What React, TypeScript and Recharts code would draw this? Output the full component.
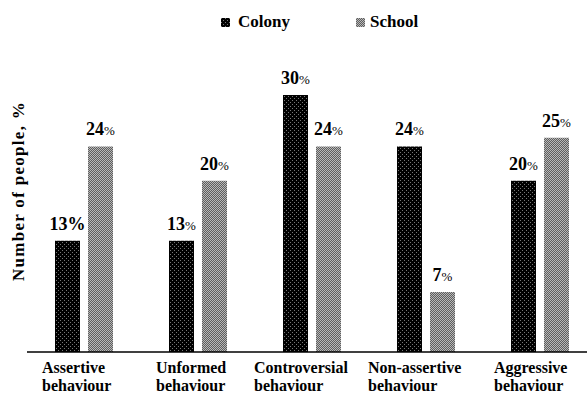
import React from "react";
import { BarChart, Bar, XAxis, YAxis, Legend, LabelList, Customized } from "recharts";

const categories = ["Assertive behaviour", "Unformed behaviour", "Controversial behaviour", "Non-assertive behaviour", "Aggressive behaviour"];
const colony = [13, 13, 30, 24, 20];
const school = [24, 20, 24, 7, 25];
// the first colony label prints the "%" at full size
const colonyBigPercent = [true, false, false, false, false];

const data = categories.map((name, i) => ({
  name,
  colony: colony[i],
  school: school[i],
}));

const FONT = '"Liberation Serif", "DejaVu Serif", serif';

const CategoryTick = (props: any) => {
  const { x, y, payload } = props;
  const words = String(payload.value).split(" ");
  const w = Math.max(...words.map((s) => s.length * 8));
  const left = x - w / 2 - 6;
  return (
    <text x={left} y={y} style={{ fontFamily: FONT }} fontWeight="bold" fontSize={16} fill="#000" textAnchor="start">
      {words.map((s, i) => (
        <tspan key={i} x={left} dy={i === 0 ? 13 : 18}>
          {s}
        </tspan>
      ))}
    </text>
  );
};

const makeLabel = (big: boolean[] | null) => (props: any) => {
  const { x, y, width, value, index } = props;
  const isBig = big ? big[index] : false;
  return (
    <text x={x + width / 2} y={y - 11} textAnchor="middle" style={{ fontFamily: FONT }} fill="#000">
      <tspan fontWeight="bold" fontSize={18}>{value}</tspan>
      <tspan fontWeight={isBig ? "bold" : "normal"} fontSize={isBig ? 18 : 13}>%</tspan>
    </text>
  );
};

const LegendContent = () => (
  <div style={{ height: 85, position: "relative", fontFamily: FONT, fontWeight: "bold", fontSize: 17, color: "#000" }}>
    <div style={{ position: "absolute", left: 194, top: 2, display: "flex", alignItems: "center", lineHeight: "20px" }}>
      <svg width={9} height={9} style={{ marginRight: 8 }}>
        <rect width={9} height={9} fill="url(#colonyPat)" />
      </svg>
      <span>Colony</span>
      <svg width={9} height={9} style={{ marginLeft: 66, marginRight: 5 }}>
        <rect width={9} height={9} fill="url(#schoolPat)" />
      </svg>
      <span>School</span>
    </div>
  </div>
);

const YLabel = () => {
  const cx = 18;
  const cy = 191;
  return (
    <text
      x={cx}
      y={cy}
      transform={`rotate(-90, ${cx}, ${cy})`}
      textAnchor="middle"
      dominantBaseline="central"
      style={{ fontFamily: FONT }}
      fontWeight="bold"
      fontSize={17}
      letterSpacing={1.3}
      fill="#000"
    >
      Number of people, %
    </text>
  );
};

export default function App() {
  return (
    <div style={{ position: "absolute", left: 0, top: 0, width: 587, height: 396, overflow: "hidden", background: "#fff" }}>
      <BarChart
        width={600}
        height={402}
        data={data}
        margin={{ top: 10, right: 3, left: 27, bottom: 0 }}
        barCategoryGap={28}
        barGap={8}
        barSize={25}
      >
        <defs>
          <pattern id="colonyPat" width={4} height={4} patternUnits="userSpaceOnUse">
            <rect width={4} height={4} fill="#000" />
            <rect x={0} y={0} width={1} height={1} fill="#777" />
            <rect x={2} y={2} width={1} height={1} fill="#777" />
          </pattern>
          <pattern id="schoolPat" width={2} height={2} patternUnits="userSpaceOnUse">
            <rect width={2} height={2} fill="#5e5e5e" />
            <rect x={0} y={0} width={1} height={1} fill="#b8b8b8" />
            <rect x={1} y={1} width={1} height={1} fill="#b8b8b8" />
          </pattern>
        </defs>
        <Legend verticalAlign="top" content={<LegendContent />} />
        <XAxis
          dataKey="name"
          height={50}
          interval={0}
          tickLine={false}
          axisLine={{ stroke: "#000", strokeWidth: 1.5 }}
          tick={<CategoryTick />}
        />
        <YAxis width={0} domain={[0, 30]} tick={false} axisLine={false} tickLine={false} />
        <Bar dataKey="colony" name="Colony" fill="url(#colonyPat)" isAnimationActive={false}>
          <LabelList dataKey="colony" content={makeLabel(colonyBigPercent)} />
        </Bar>
        <Bar dataKey="school" name="School" fill="url(#schoolPat)" isAnimationActive={false}>
          <LabelList dataKey="school" content={makeLabel(null)} />
        </Bar>
        <Customized component={<YLabel />} />
      </BarChart>
    </div>
  );
}
